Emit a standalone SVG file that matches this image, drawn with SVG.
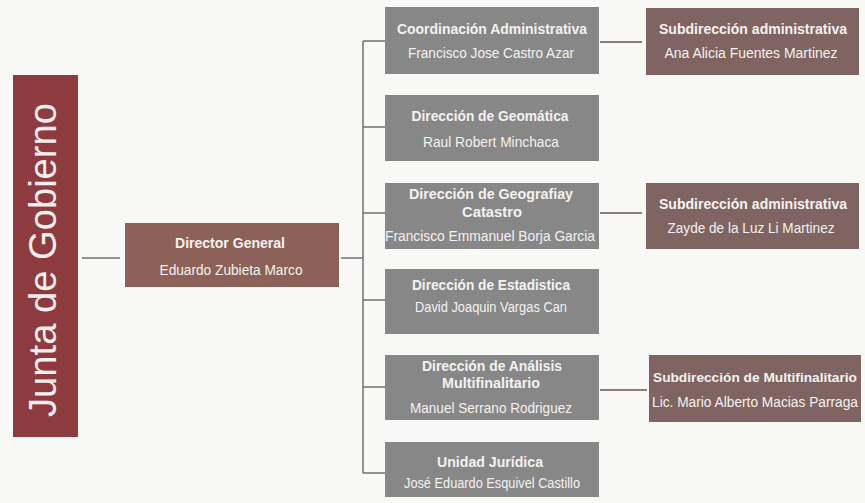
<svg xmlns="http://www.w3.org/2000/svg" width="865" height="503" viewBox="0 0 865 503">
<style>
.bg{fill:#f8f8f6}
.junta{fill:#8e3b40}
.dir{fill:#8c6158}
.gray{fill:#878787}
.sub{fill:#7f6462}
.t{font-family:"Liberation Sans",Arial,sans-serif;font-weight:bold;font-size:15px;fill:#f4f2f0}
.n{font-family:"Liberation Sans",Arial,sans-serif;font-size:14px;fill:#f4f2f0}
.big{font-family:"Liberation Sans",Arial,sans-serif;font-size:38px;fill:#f6eeee}
.c{stroke:#707070;stroke-width:1.5;fill:none}
.cr{stroke:#6a5654;stroke-width:1.5;fill:none}
</style>
<rect class="bg" x="0" y="0" width="865" height="503"/>
<g id="connectors">
<line class="c" x1="82" y1="258" x2="120" y2="258"/>
<line class="c" x1="341" y1="258" x2="363" y2="258"/>
<line class="c" x1="363" y1="41" x2="363" y2="473"/>
<line class="c" x1="363" y1="41" x2="385" y2="41"/>
<line class="c" x1="363" y1="127" x2="385" y2="127"/>
<line class="c" x1="363" y1="213" x2="385" y2="213"/>
<line class="c" x1="363" y1="300" x2="385" y2="300"/>
<line class="c" x1="363" y1="387" x2="385" y2="387"/>
<line class="c" x1="363" y1="473" x2="385" y2="473"/>
<line class="cr" x1="600" y1="42" x2="642" y2="42"/>
<line class="cr" x1="600" y1="213" x2="642" y2="213"/>
<line class="cr" x1="600" y1="390" x2="647" y2="390"/>
</g>
<g id="junta">
<rect class="junta" x="13" y="75" width="65" height="362"/>
<text class="big" transform="translate(56,260) rotate(-90)" text-anchor="middle" textLength="314" lengthAdjust="spacingAndGlyphs">Junta de Gobierno</text>
</g>
<g id="director">
<rect class="dir" x="125" y="223" width="214" height="64"/>
<text class="t" x="230" y="248" text-anchor="middle" textLength="110" lengthAdjust="spacingAndGlyphs">Director General</text>
<text class="n" x="231" y="275" text-anchor="middle" textLength="143" lengthAdjust="spacingAndGlyphs">Eduardo  Zubieta Marco</text>
</g>
<g id="coord-admin">
<rect class="gray" x="385" y="7" width="214" height="67"/>
<text class="t" x="492" y="34" text-anchor="middle" textLength="190" lengthAdjust="spacingAndGlyphs">Coordinación Administrativa</text>
<text class="n" x="491" y="58" text-anchor="middle" textLength="166" lengthAdjust="spacingAndGlyphs">Francisco Jose Castro Azar</text>
</g>
<g id="geomatica">
<rect class="gray" x="385" y="95" width="214" height="66"/>
<text class="t" x="490" y="121" text-anchor="middle" textLength="157" lengthAdjust="spacingAndGlyphs">Dirección de Geomática</text>
<text class="n" x="491" y="147" text-anchor="middle" textLength="136" lengthAdjust="spacingAndGlyphs">Raul Robert Minchaca</text>
</g>
<g id="geografia">
<rect class="gray" x="385" y="183" width="214" height="66"/>
<text class="t" x="491" y="199" text-anchor="middle" textLength="164" lengthAdjust="spacingAndGlyphs">Dirección de Geografiay</text>
<text class="t" x="492" y="217" text-anchor="middle" textLength="60" lengthAdjust="spacingAndGlyphs">Catastro</text>
<text class="n" x="490" y="241" text-anchor="middle" textLength="210" lengthAdjust="spacingAndGlyphs">Francisco Emmanuel  Borja Garcia</text>
</g>
<g id="estadistica">
<rect class="gray" x="385" y="269" width="214" height="65"/>
<text class="t" x="491" y="290" text-anchor="middle" textLength="158" lengthAdjust="spacingAndGlyphs">Dirección de Estadistica</text>
<text class="n" x="491" y="312" text-anchor="middle" textLength="152" lengthAdjust="spacingAndGlyphs">David  Joaquin  Vargas  Can</text>
</g>
<g id="analisis">
<rect class="gray" x="385" y="355" width="214" height="65"/>
<text class="t" x="492" y="371" text-anchor="middle" textLength="140" lengthAdjust="spacingAndGlyphs">Dirección de Análisis</text>
<text class="t" x="491" y="388" text-anchor="middle" textLength="98" lengthAdjust="spacingAndGlyphs">Multifinalitario</text>
<text class="n" x="491" y="413" text-anchor="middle" textLength="162" lengthAdjust="spacingAndGlyphs">Manuel  Serrano  Rodriguez</text>
</g>
<g id="juridica">
<rect class="gray" x="385" y="442" width="214" height="55"/>
<text class="t" x="490" y="467" text-anchor="middle" textLength="106" lengthAdjust="spacingAndGlyphs">Unidad Jurídica</text>
<text class="n" x="492" y="488" text-anchor="middle" textLength="176" lengthAdjust="spacingAndGlyphs">José  Eduardo  Esquivel  Castillo</text>
</g>
<g id="subdir-admin-1">
<rect class="sub" x="646" y="8" width="213" height="67"/>
<text class="t" x="753" y="34" text-anchor="middle" textLength="188" lengthAdjust="spacingAndGlyphs">Subdirección administrativa</text>
<text class="n" x="751" y="58" text-anchor="middle" textLength="173" lengthAdjust="spacingAndGlyphs">Ana Alicia  Fuentes Martinez</text>
</g>
<g id="subdir-admin-2">
<rect class="sub" x="646" y="183" width="213" height="66"/>
<text class="t" x="753" y="209" text-anchor="middle" textLength="188" lengthAdjust="spacingAndGlyphs">Subdirección administrativa</text>
<text class="n" x="751" y="233" text-anchor="middle" textLength="167" lengthAdjust="spacingAndGlyphs">Zayde  de la Luz Li Martinez</text>
</g>
<g id="subdir-multi">
<rect class="sub" x="649" y="355" width="212" height="67"/>
<text class="t" x="755" y="382" text-anchor="middle" textLength="204" lengthAdjust="spacingAndGlyphs" style="font-size:13.5px">Subdirección de Multifinalitario</text>
<text class="n" x="755" y="407" text-anchor="middle" textLength="206" lengthAdjust="spacingAndGlyphs">Lic. Mario Alberto Macias  Parraga</text>
</g>
</svg>
